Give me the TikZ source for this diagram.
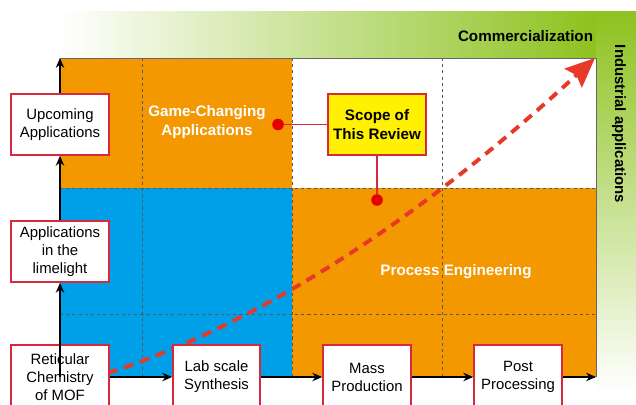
\documentclass[tikz,border=0pt]{standalone}
\usepackage{fontspec}
\setmainfont{Liberation Sans}
\usetikzlibrary{arrows.meta}

\definecolor{mofgreen}{HTML}{8DC21F}
\definecolor{moforange}{HTML}{F39800}
\definecolor{mofblue}{HTML}{00A0E9}
\definecolor{mofyellow}{HTML}{FFF100}
\definecolor{boxred}{HTML}{D7283C}
\definecolor{curvered}{HTML}{E83828}

\tikzset{
  stage/.style={draw=boxred, line width=1.2pt, fill=white, align=center, inner sep=0pt,
    font=\fontsize{10.6}{12.8}\selectfont},
  axis/.style={black, line width=1pt, -{Stealth[length=7pt, width=6pt]}},
  grid/.style={black!65, line width=0.5pt, dash pattern=on 2.2pt off 2.2pt},
  link/.style={boxred, line width=1pt},
  dot/.style={circle, fill=red!90!black, minimum size=0.29cm, inner sep=0pt},
  zonelabel/.style={white, font=\fontsize{10.8}{13}\selectfont\bfseries, align=center}
}

\begin{document}
\begin{tikzpicture}[x=0.025cm, y=-0.025cm]
    \useasboundingbox (0,0) rectangle (636,405);
    \coordinate (o) at (60,377);
    \coordinate (ytop) at (60,58);
    \coordinate (xend) at (596,377);
    
    % green bands
    \shade[left color=white, right color=mofgreen] (60,12) rectangle (596,58);
    \shade[top color=mofgreen, bottom color=white] (596,12) rectangle (636,392);
    
    % the four zones
    \fill[moforange] (60,58) rectangle (292,188);
    \fill[mofblue] (60,188) rectangle (292,377);
    \fill[moforange] (292,188) rectangle (596,377);
    \foreach \x in {142,292,442} \draw[grid] (\x,58) -- (\x,377);
    \foreach \y in {188,314} \draw[grid] (60,\y) -- (596,\y);
    \draw[black!60, line width=0.4pt] (ytop) -- (596,58) -- (xend);
    
    % road to commercialization
    \coordinate (cstart) at (108,373);
    \coordinate (cend) at (595,58);
    \draw[curvered, line width=2.8pt, dash pattern=on 7pt off 5pt,
      -{Triangle[length=21pt, width=18pt, inset=3pt]}]
      (cstart) .. controls (270,320) and (430,210) .. (cend);
    
    % stages
    \node[stage, minimum width=2.45cm, minimum height=1.525cm] (upc) at (60,124.5) {Upcoming\\Applications};
    \node[stage, minimum width=2.45cm, minimum height=1.525cm] (lime) at (60,251.5) {Applications\\in the\\limelight};
    \node[stage, minimum width=2.45cm, minimum height=1.6cm] (ret) at (60,377) {Reticular\\Chemistry\\of MOF};
    \node[stage, minimum width=2.175cm, minimum height=1.6cm] (lab) at (216.5,377) {Lab scale\\Synthesis};
    \node[stage, minimum width=2.2cm, minimum height=1.6cm] (mass) at (367,377) {Mass\\Production};
    \node[stage, minimum width=2.2cm, minimum height=1.6cm] (post) at (518,377) {Post\\Processing};
    
    \draw[axis] (o) -- (lime.south);
    \draw[axis] (lime.north) -- (upc.south);
    \draw[axis] (upc.north) -- (ytop);
    \draw[axis] (ret.east) -- (lab.west);
    \draw[axis] (lab.east) -- (mass.west);
    \draw[axis] (mass.east) -- (post.west);
    \draw[axis] (post.east) -- (xend);
    
    % scope of this review
    \node[stage, fill=mofyellow, minimum width=2.45cm, minimum height=1.525cm,
      font=\fontsize{10.8}{13}\selectfont\bfseries] (scope) at (377,124.5) {Scope of\\This Review};
    \node[dot] (gcdot) at (278,124.5) {};
    \node[dot] (pedot) at (377,200) {};
    \draw[link] (gcdot) -- (scope);
    \draw[link] (scope) -- (pedot);
    
    \node[zonelabel] (gc) at (207,122) {Game-Changing\\Applications};
    \node[zonelabel] (pe) at (456,272) {Process Engineering};
    \node[anchor=east, font=\fontsize{10.8}{13}\selectfont\bfseries] (comm) at (598,36) {Commercialization};
    \node[rotate=-90, font=\fontsize{10.6}{13}\selectfont\bfseries] (ind) at (619,124) {Industrial applications};
\end{tikzpicture}
\end{document}
